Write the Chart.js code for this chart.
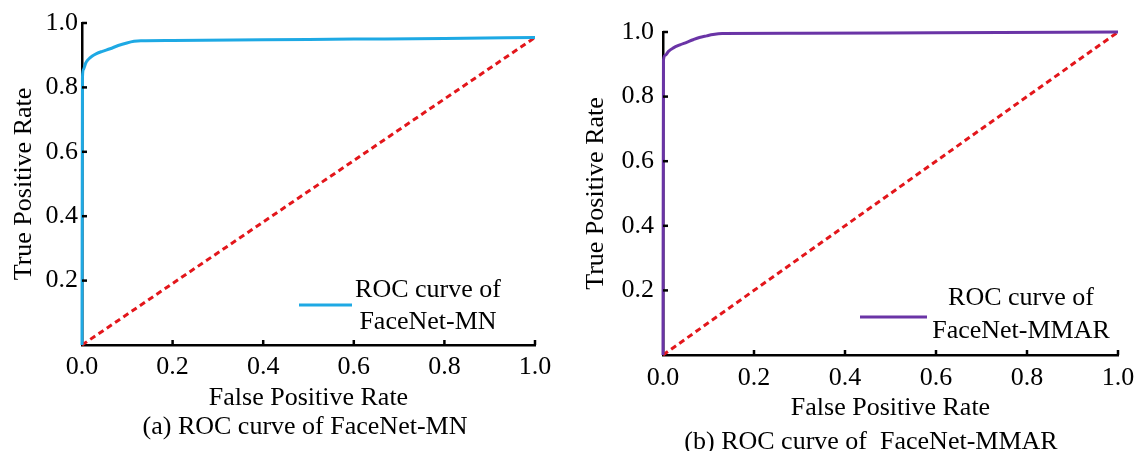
<!DOCTYPE html>
<html>
<head>
<meta charset="utf-8">
<script src="https://cdn.jsdelivr.net/npm/chart.js@4.4.1/dist/chart.umd.min.js"></script>
<style>
    body { margin: 0; background: #fff; }
    .panel { position: absolute; top: 0; height: 451px; }
    #panelA { left: 0; width: 573px; }
    #panelB { left: 573px; width: 574px; }
</style>
</head>
<body>
<div class="panel" id="panelA"><canvas id="rocA"></canvas></div>
<div class="panel" id="panelB"><canvas id="rocB"></canvas></div>
<script>
// tick labels shared by both panels
const tickValues = [0, 0.2, 0.4, 0.6, 0.8, 1.0];

// (a) FaceNet-MN
const fprMN = [0, 0.001, 0.003, 0.008, 0.014, 0.022, 0.032, 0.045, 0.062, 0.08, 0.099, 0.115, 0.13, 0.2, 0.4, 0.6, 0.8, 1.0];
const tprMN = [0, 0.83, 0.855, 0.875, 0.887, 0.897, 0.905, 0.912, 0.920, 0.930, 0.938, 0.943, 0.945, 0.946, 0.948, 0.950, 0.952, 0.955];
const diagMNx = [0, 1.0];
const diagMNy = [0, 0.955];

// (b) FaceNet-MMAR
const fprMMAR = [0, 0.001, 0.005, 0.012, 0.022, 0.037, 0.052, 0.066, 0.08, 0.096, 0.11, 0.13, 0.3, 0.6, 1.0];
const tprMMAR = [0, 0.913, 0.928, 0.940, 0.950, 0.960, 0.968, 0.976, 0.983, 0.988, 0.992, 0.995, 0.996, 0.998, 1.0];
const diagMMARx = [0, 1.0];
const diagMMARy = [0, 1.0];

const serif = '"Liberation Serif", "DejaVu Serif", serif';

function toPoints(xs, ys) {
    return xs.map((x, i) => ({ x: x, y: ys[i] }));
}

// inside tick marks, two-line legend and the caption under the panel
const annotate = {
    id: 'annotate',
    afterDraw(chart, args, opts) {
        const ctx = chart.ctx;
        const a = chart.chartArea;
        const xs = chart.scales.x;
        const ys = chart.scales.y;
        ctx.save();
        ctx.strokeStyle = '#000';
        ctx.lineWidth = 2.5;
        xs.ticks.forEach(t => {
            if (t.value === 0) return;
            const px = xs.getPixelForValue(t.value);
            ctx.beginPath();
            ctx.moveTo(px, a.bottom);
            ctx.lineTo(px, a.bottom - 5);
            ctx.stroke();
        });
        ys.ticks.forEach(t => {
            if (t.value === 0) return;
            const py = ys.getPixelForValue(t.value);
            ctx.beginPath();
            ctx.moveTo(a.left, py);
            ctx.lineTo(a.left + 5, py);
            ctx.stroke();
        });

        // legend
        const lg = opts.legend;
        ctx.strokeStyle = lg.color;
        ctx.lineWidth = 3;
        ctx.beginPath();
        ctx.moveTo(a.left + lg.x0, a.top + lg.y);
        ctx.lineTo(a.left + lg.x1, a.top + lg.y);
        ctx.stroke();
        ctx.fillStyle = '#000';
        ctx.font = '26px ' + serif;
        ctx.textAlign = 'center';
        ctx.textBaseline = 'middle';
        lg.lines.forEach((line, i) => {
            ctx.fillText(line, a.left + lg.tx, a.top + lg.ty + i * lg.gap);
        });

        // caption
        ctx.fillText(opts.caption, a.left + opts.captionDx, a.bottom + opts.captionDy);
        ctx.restore();
    }
};

function makeRoc(canvasId, cfg) {
    const ctx = document.getElementById(canvasId).getContext('2d');
    return new Chart(ctx, {
        type: 'line',
        data: {
            datasets: [
                {
                    label: cfg.label,
                    data: toPoints(cfg.fpr, cfg.tpr),
                    borderColor: cfg.color,
                    borderWidth: 3,
                    pointRadius: 0,
                    fill: false,
                    cubicInterpolationMode: 'monotone',
                    clip: false
                },
                {
                    label: 'Chance',
                    data: toPoints(cfg.diagX, cfg.diagY),
                    borderColor: '#e3161b',
                    borderWidth: 3,
                    borderDash: [6, 4],
                    pointRadius: 0,
                    fill: false,
                    clip: false
                }
            ]
        },
        options: {
            responsive: true,
            maintainAspectRatio: false,
            animation: false,
            layout: { padding: cfg.padding },
            plugins: {
                legend: { display: false },
                tooltip: { enabled: false },
                annotate: {
                    legend: cfg.legend,
                    caption: cfg.caption,
                    captionDx: cfg.captionDx,
                    captionDy: cfg.captionDy
                }
            },
            scales: {
                x: {
                    type: 'linear',
                    min: 0,
                    max: 1,
                    afterBuildTicks: scale => { scale.ticks = tickValues.map(v => ({ value: v })); },
                    afterFit: scale => { scale.height = cfg.xHeight; },
                    grid: { drawOnChartArea: false, drawTicks: false },
                    border: { color: '#000', width: 2.5 },
                    ticks: {
                        color: '#000',
                        padding: cfg.xTickPad,
                        font: { family: serif, size: 26 },
                        callback: v => v.toFixed(1)
                    },
                    title: {
                        display: true,
                        text: 'False Positive Rate',
                        color: '#000',
                        padding: { top: 0, bottom: cfg.xTitlePad },
                        font: { family: serif, size: 26 }
                    }
                },
                y: {
                    type: 'linear',
                    min: 0,
                    max: 1,
                    afterBuildTicks: scale => { scale.ticks = tickValues.map(v => ({ value: v })); },
                    afterFit: scale => { scale.width = cfg.yWidth; },
                    grid: { drawOnChartArea: false, drawTicks: false },
                    border: { color: '#000', width: 2.5 },
                    ticks: {
                        color: '#000',
                        padding: cfg.yTickPad,
                        font: { family: serif, size: 26 },
                        callback: v => (v === 0 ? '' : v.toFixed(1))
                    },
                    title: {
                        display: true,
                        text: 'True Positive Rate',
                        color: '#000',
                        padding: { top: cfg.yTitlePad, bottom: 0 },
                        font: { family: serif, size: 26 }
                    }
                }
            }
        },
        plugins: [annotate]
    });
}

document.addEventListener('DOMContentLoaded', () => {
    makeRoc('rocA', {
        label: 'ROC curve of FaceNet-MN',
        fpr: fprMN, tpr: tprMN, diagX: diagMNx, diagY: diagMNy,
        color: '#1ea9e4',
        padding: { top: 23, right: 38, left: 0, bottom: 0 },
        xHeight: 106, yWidth: 82,
        xTickPad: 7, yTickPad: 4,
        xTitlePad: 37, yTitlePad: 9,
        legend: { color: '#1ea9e4', x0: 217, x1: 270, y: 282, tx: 346, ty: 267, gap: 32,
                  lines: ['ROC curve of', 'FaceNet-MN'] },
        caption: '(a) ROC curve of FaceNet-MN', captionDx: 223, captionDy: 82
    });
    makeRoc('rocB', {
        label: 'ROC curve of FaceNet-MMAR',
        fpr: fprMMAR, tpr: tprMMAR, diagX: diagMMARx, diagY: diagMMARy,
        color: '#6a34a6',
        padding: { top: 32, right: 29, left: 0, bottom: 0 },
        xHeight: 96, yWidth: 90,
        xTickPad: 8, yTickPad: 9,
        xTitlePad: 27, yTitlePad: 8,
        legend: { color: '#6a34a6', x0: 197, x1: 264, y: 285, tx: 358, ty: 266, gap: 33,
                  lines: ['ROC curve of', 'FaceNet-MMAR'] },
        caption: '(b) ROC curve of  FaceNet-MMAR', captionDx: 208, captionDy: 87
    });
});
</script>
</body>
</html>
